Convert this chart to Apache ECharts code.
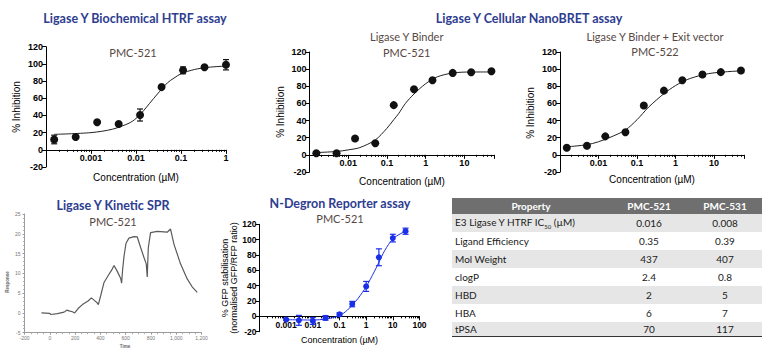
<!DOCTYPE html>
<html>
<head>
<meta charset="utf-8">
<script src="https://cdn.jsdelivr.net/npm/echarts@6/dist/echarts.min.js"></script>
<style>
  html, body { margin: 0; padding: 0; background: #fff; }
  #main { position: absolute; left: 0; top: 0; width: 773px; height: 350px; }
  #props {
    position: absolute; left: 452px; top: 198px; width: 310px;
    border-collapse: collapse; table-layout: fixed;
    font-family: Lato, 'Open Sans', sans-serif; font-size: 10px; color: #1a1a1a;
    border-bottom: 1.5px solid #333;
  }
  #props th { background: #6f6f6f; color: #fff; font-weight: bold; height: 16px; padding: 0; text-align: center; }
  #props td { height: 18px; padding: 0; text-align: center; }
  #props td:first-child { text-align: left; padding-left: 3px; }
  #props tbody tr:nth-child(odd) { background: #e6e6e6; }
  #props tbody tr:last-child td { height: 14px; }
  #props sub { font-size: 6px; }
</style>
</head>
<body>
<div id="main"></div>
<table id="props">
  <colgroup><col style="width:158px"><col style="width:78px"><col style="width:74px"></colgroup>
  <thead><tr id="propsHead"></tr></thead>
  <tbody id="propsBody"></tbody>
</table>
<script>
// ---- Ligase Y Biochemical HTRF assay (PMC-521)
const htrfConc = [0.000152, 0.000457, 0.00137, 0.00412, 0.0123, 0.037, 0.111, 0.333, 1];
const htrfInh = [12, 15, 32, 30, 40.5, 73, 92.5, 96, 99];
const htrfErr = [5, 0, 0, 0, 7, 0, 4, 0, 6];
const htrfFitConc = [0.000152, 0.001, 0.003, 0.007, 0.01, 0.015, 0.02, 0.03, 0.05, 0.07, 0.1, 0.2, 0.4, 1];
const htrfFitInh = [18, 20, 24, 31, 36.5, 46, 54, 65, 78, 83.5, 88.5, 93.5, 96, 97.5];
const htrfTicks = ['0.001', '0.01', '0.1', '1'];

// ---- NanoBRET, Ligase Y Binder (PMC-521)
const bretConc = [0.0015, 0.005, 0.015, 0.05, 0.15, 0.5, 1.5, 5, 15, 50];
const bret521 = [1.9, 1.9, 19, 13.5, 58, 76.6, 87, 95.6, 96.3, 97.5];
const bret521FitConc = [0.0015, 0.005, 0.01, 0.02, 0.05, 0.1, 0.15, 0.2, 0.3, 0.5, 1, 2, 5, 15, 50];
const bret521Fit = [2.7, 3.9, 5.8, 8.5, 17.4, 31, 41, 48, 60, 71, 83, 91, 95.5, 96.7, 96.7];

// ---- NanoBRET, Ligase Y Binder + Exit vector (PMC-522)
const bret522 = [8.2, 10.6, 21.6, 26.3, 57.6, 74.9, 87, 93.7, 96.5, 98.4];
const bret522FitConc = [0.0015, 0.005, 0.01, 0.02, 0.05, 0.1, 0.2, 0.5, 1, 2, 5, 10, 20, 50];
const bret522Fit = [9.4, 11.8, 15.3, 20.4, 29, 41, 55.7, 71.4, 80.8, 87.8, 93.3, 95.7, 96.9, 98];
const bretTicks = ['0.01', '0.1', '1', '10'];

// ---- Ligase Y Kinetic SPR (PMC-521)
const sprTime = [-66, 0, 8, 61, 113, 134, 153, 179, 197, 224, 258, 303, 329, 355, 376, 384, 403, 429, 461, 489, 508,
  534, 561, 568, 576, 587, 603, 626, 666, 692, 718, 745, 763, 771, 779, 797, 850, 929, 955, 982, 1034, 1087, 1126, 1166];
const sprResp = [0, -0.1, -0.4, -0.2, 0.2, 0.7, 0.5, 0.3, 0, 1.1, 2.1, 3.0, 3.8, 3.1, 2.5, 2.1, 4.4, 7.7, 9.4, 10.8, 12.0,
  10.5, 8.7, 7.5, 10.9, 14.3, 17.6, 18.9, 19.3, 19.2, 16.6, 14.0, 12.4, 9.1, 16.4, 20.3, 20.6, 20.4, 21.2, 17.4, 12.4, 8.6, 6.6, 5.2];

// ---- N-Degron Reporter assay (PMC-521)
const ndegConc = [0.001, 0.003, 0.01, 0.03, 0.1, 0.3, 1, 3, 10, 30];
const ndegGfp = [-4.3, -5.2, -6, -2, 2.6, 16, 39, 77, 102, 111];
const ndegErr = [1, 6.5, 4.5, 3, 2, 3.5, 6.5, 11, 5, 4];
const ndegFitConc = [0.001, 0.01, 0.03, 0.1, 0.2, 0.3, 0.5, 1, 2, 3, 5, 10, 20, 30];
const ndegFit = [-4.3, -4.8, -3.5, 0.9, 8.3, 14.8, 23.5, 38.7, 58, 70.4, 86, 101, 108, 111];
const ndegTicks = ['0.001', '0.01', '0.1', '1', '10', '100'];

// ---- property table
const tableHeader = ['Property', 'PMC-521', 'PMC-531'];
const propNames = ['E3 Ligase Y HTRF IC50 (\u00b5M)', 'Ligand Efficiency', 'Mol Weight', 'clogP', 'HBD', 'HBA', 'tPSA'];
const pmc521 = ['0.016', '0.35', '437', '2.4', '2', '6', '70'];
const pmc531 = ['0.008', '0.39', '407', '0.8', '5', '7', '117'];

document.getElementById('propsHead').innerHTML = tableHeader.map(h => '<th>' + h + '</th>').join('');
document.getElementById('propsBody').innerHTML = propNames.map((p, i) =>
  '<tr><td>' + p.replace('IC50', 'IC<sub>50</sub>') + '</td><td>' + pmc521[i] + '</td><td>' + pmc531[i] + '</td></tr>'
).join('');

const AXFONT = "'Liberation Sans', Arial, sans-serif";
const TFONT = "Lato, 'Open Sans', sans-serif";
const pairs = (xs, ys) => xs.map((x, i) => [x, ys[i]]);

// x axis sits on y = 0 of a -20..120 y range: lift it from the grid bottom
function logAxis(gridIndex, min, max, ticks, size, gridH) {
  return {
    type: 'log', logBase: 10, gridIndex: gridIndex, min: min, max: max,
    position: 'bottom', offset: -gridH * 20 / 140,
    axisLine: { onZero: false, lineStyle: { color: '#000', width: 1 } },
    axisTick: { show: true, length: 4, lineStyle: { color: '#000' } },
    minorTick: { show: true, splitNumber: 9, length: 2, lineStyle: { color: '#000' } },
    axisLabel: {
      color: '#000', fontSize: size, fontWeight: 'bold', fontFamily: AXFONT, margin: 4,
      showMinLabel: true, showMaxLabel: true,
      formatter: v => { const s = String(+(+v).toPrecision(2)); return ticks.indexOf(s) >= 0 ? s : ''; }
    },
    splitLine: { show: false }
  };
}

function pctAxis(gridIndex, size) {
  return {
    type: 'value', gridIndex: gridIndex, min: -20, max: 120, interval: 20,
    axisLine: { show: true, onZero: false, lineStyle: { color: '#000', width: 1 } },
    axisTick: { show: true, length: 4, lineStyle: { color: '#000' } },
    axisLabel: { color: '#000', fontSize: size, fontWeight: 'bold', fontFamily: AXFONT, margin: 3 },
    splitLine: { show: false }
  };
}

function errRender(params, api) {
  const x = api.value(0), y = api.value(1), e = api.value(2);
  const hi = api.coord([x, y + e]), lo = api.coord([x, y - e]);
  const w = 3, st = { stroke: api.visual('color'), lineWidth: 1.2 };
  return {
    type: 'group', children: [
      { type: 'line', shape: { x1: hi[0], y1: hi[1], x2: lo[0], y2: lo[1] }, style: st },
      { type: 'line', shape: { x1: hi[0] - w, y1: hi[1], x2: hi[0] + w, y2: hi[1] }, style: st },
      { type: 'line', shape: { x1: lo[0] - w, y1: lo[1], x2: lo[0] + w, y2: lo[1] }, style: st }
    ]
  };
}

function fitLine(idx, xs, ys, color) {
  return { type: 'line', xAxisIndex: idx, yAxisIndex: idx, data: pairs(xs, ys), smooth: 0.3, showSymbol: false,
    lineStyle: { color: color, width: 1 }, z: 2, silent: true };
}
function dots(idx, xs, ys, color, size) {
  return { type: 'scatter', xAxisIndex: idx, yAxisIndex: idx, data: pairs(xs, ys), symbolSize: size,
    itemStyle: { color: color, opacity: 1 }, z: 4 };
}
function errBars(idx, xs, ys, es, color) {
  return { type: 'custom', xAxisIndex: idx, yAxisIndex: idx, renderItem: errRender, itemStyle: { color: color }, z: 3,
    data: xs.map((x, i) => [x, ys[i], es[i]]).filter(d => d[2] > 0) };
}

function label(x, y, text, size, weight, color, family, rot) {
  return { type: 'text', x: x, y: y, rotation: rot || 0, silent: true,
    style: { text: text, fontSize: size, fontWeight: weight, fill: color, fontFamily: family, align: 'center', verticalAlign: 'middle' } };
}
const BLUE_T = '#2e3d8f', SUB = '#574843';
const NB = '#1c2fe8';

const chart = echarts.init(document.getElementById('main'), null, { renderer: 'svg' });
chart.setOption({
  animation: false,
  grid: [
    { left: 46, top: 46.7, width: 180, height: 120.3, outerBoundsMode: 'none' },
    { left: 309.5, top: 52, width: 185, height: 120, outerBoundsMode: 'none' },
    { left: 560, top: 52, width: 184, height: 120, outerBoundsMode: 'none' },
    { left: 24.5, top: 214, width: 177, height: 118.7, outerBoundsMode: 'none' },
    { left: 259.5, top: 224.3, width: 160, height: 107.4, outerBoundsMode: 'none' }
  ],
  xAxis: [
    logAxis(0, 0.0001, 1, htrfTicks, 9, 120.3),
    logAxis(1, 0.001, 60, bretTicks, 9, 120),
    logAxis(2, 0.001, 60, bretTicks, 9, 120),
    {
      type: 'value', gridIndex: 3, min: -200, max: 1200, interval: 200,
      axisLine: { onZero: false, lineStyle: { color: '#9a9a9a' } },
      axisTick: { length: 2, lineStyle: { color: '#9a9a9a' } },
      minorTick: { show: true, splitNumber: 4, length: 1.5, lineStyle: { color: '#b0b0b0' } },
      axisLabel: { fontSize: 5, color: '#777', margin: 3, fontFamily: AXFONT },
      splitLine: { show: false }
    },
    logAxis(4, 0.0001, 100, ndegTicks, 8.5, 107.4)
  ],
  yAxis: [
    pctAxis(0, 9), pctAxis(1, 9), pctAxis(2, 9),
    {
      type: 'value', gridIndex: 3, min: -5, max: 25, interval: 5,
      axisLine: { show: true, onZero: false, lineStyle: { color: '#9a9a9a' } },
      axisTick: { show: true, length: 2, lineStyle: { color: '#9a9a9a' } },
      minorTick: { show: true, splitNumber: 5, length: 1.5, lineStyle: { color: '#b0b0b0' } },
      axisLabel: { fontSize: 5, color: '#777', margin: 4, fontFamily: AXFONT },
      splitLine: { show: false }
    },
    pctAxis(4, 8.5)
  ],
  series: [
    fitLine(0, htrfFitConc, htrfFitInh, '#222'),
    errBars(0, htrfConc, htrfInh, htrfErr, '#111'),
    dots(0, htrfConc, htrfInh, '#111', 8),

    fitLine(1, bret521FitConc, bret521Fit, '#222'),
    dots(1, bretConc, bret521, '#111', 8),

    fitLine(2, bret522FitConc, bret522Fit, '#222'),
    dots(2, bretConc, bret522, '#111', 8),

    { type: 'line', xAxisIndex: 3, yAxisIndex: 3, data: pairs(sprTime, sprResp), showSymbol: false,
      lineStyle: { color: '#5a5a5a', width: 1.2 }, silent: true },

    fitLine(4, ndegFitConc, ndegFit, NB),
    errBars(4, ndegConc, ndegGfp, ndegErr, NB),
    dots(4, ndegConc, ndegGfp, NB, 6)
  ],
  graphic: [
    label(135, 18, 'Ligase Y Biochemical HTRF assay', 12.5, 'bold', BLUE_T, TFONT),
    label(529, 18, 'Ligase Y Cellular NanoBRET assay', 12.5, 'bold', BLUE_T, TFONT),
    label(133, 52, 'PMC-521', 11, 'normal', SUB, TFONT),
    label(406.7, 36, 'Ligase Y Binder', 11, 'normal', SUB, TFONT),
    label(406.7, 52, 'PMC-521', 11, 'normal', SUB, TFONT),
    label(655, 36.7, 'Ligase Y Binder + Exit vector', 11, 'normal', SUB, TFONT),
    label(655, 51.7, 'PMC-522', 11, 'normal', SUB, TFONT),
    label(113, 205, 'Ligase Y Kinetic SPR', 12.5, 'bold', BLUE_T, TFONT),
    label(113, 221.7, 'PMC-521', 11, 'normal', SUB, TFONT),
    label(340, 203.3, 'N-Degron Reporter assay', 12.5, 'bold', BLUE_T, TFONT),
    label(340, 218.3, 'PMC-521', 11, 'normal', SUB, TFONT),

    label(16, 107, '% Inhibition', 10, 'normal', '#000', AXFONT, Math.PI / 2),
    label(280, 112, '% Inhibition', 10, 'normal', '#000', AXFONT, Math.PI / 2),
    label(530.7, 113, '% Inhibition', 10, 'normal', '#000', AXFONT, Math.PI / 2),
    label(136, 177, 'Concentration (\u00b5M)', 10, 'normal', '#000', AXFONT),
    label(402, 181.7, 'Concentration (\u00b5M)', 10, 'normal', '#000', AXFONT),
    label(652, 179.3, 'Concentration (\u00b5M)', 10, 'normal', '#000', AXFONT),
    label(7, 282, 'Response', 4.5, 'bold', '#666', AXFONT, Math.PI / 2),
    label(125, 346, 'Time', 4.5, 'bold', '#666', AXFONT),
    label(225, 278, '% GFP stabilisation', 9, 'normal', '#000', AXFONT, Math.PI / 2),
    label(234, 278, '(normalised GFP/RFP ratio)', 9, 'normal', '#000', AXFONT, Math.PI / 2),
    label(339.5, 340, 'Concentration (\u00b5M)', 9, 'normal', '#000', AXFONT)
  ]
});
</script>
</body>
</html>
